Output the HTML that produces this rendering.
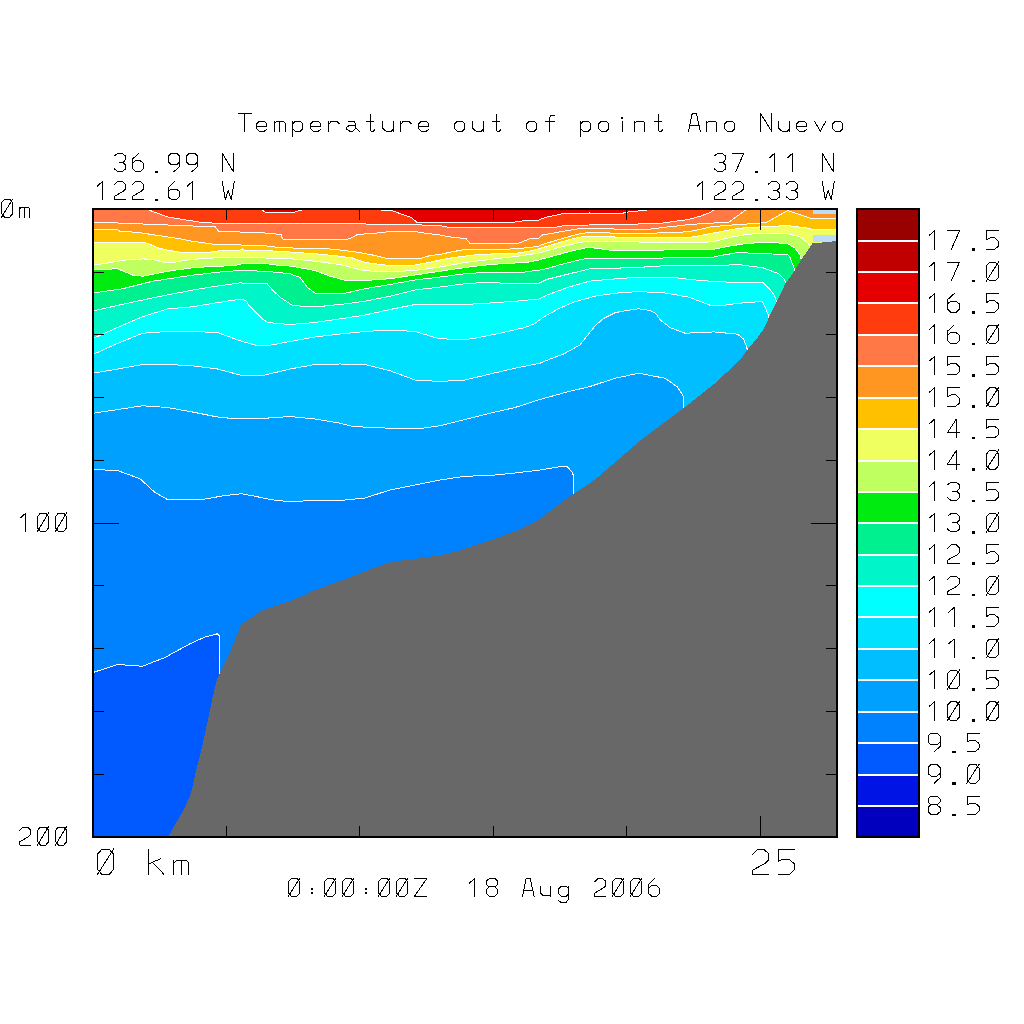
<!DOCTYPE html><html><head><meta charset="utf-8"><title>Temperature out of point Ano Nuevo</title><style>html,body{margin:0;padding:0;background:#fff;font-family:"Liberation Sans",sans-serif}svg{display:block}</style></head><body><svg width="1024" height="1024" viewBox="0 0 1024 1024" shape-rendering="crispEdges"><rect width="1024" height="1024" fill="#fff"/><defs><clipPath id="pc"><rect x="93.0" y="209.0" width="744.0" height="628.0"/></clipPath></defs><g clip-path="url(#pc)"><rect x="93.0" y="209.0" width="744.0" height="628.0" fill="#E40000"/><polygon points="93.00,209.00 261.00,209.00 265.00,212.00 295.00,212.00 305.00,209.00 366.00,209.00 380.00,210.00 390.60,210.25 398.75,213.10 411.25,217.50 416.90,222.25 447.50,222.75 490.00,222.75 515.00,222.00 530.00,220.00 538.75,220.00 545.00,217.50 563.75,213.50 588.75,213.50 589.40,212.75 590.00,213.50 621.25,213.50 628.75,211.90 646.25,210.25 650.00,209.00 837.00,209.00 837.00,837.00 93.00,837.00" fill="#FF3C0E"/><polygon points="93.00,209.00 146.00,209.00 167.50,216.90 192.50,221.00 202.50,222.50 217.50,223.30 260.00,223.50 300.00,223.50 365.60,223.50 366.50,224.60 416.25,224.80 440.00,225.60 450.00,227.50 508.00,227.75 530.00,227.75 555.00,227.50 563.75,225.60 588.75,225.00 637.50,224.40 638.75,223.30 662.50,223.10 675.00,221.25 687.50,219.75 700.00,216.25 710.00,212.75 715.00,209.00 837.00,209.00 837.00,837.00 93.00,837.00" fill="#FF7845"/><polygon points="93.00,222.50 117.50,222.50 118.75,223.75 142.50,223.75 143.75,224.75 167.50,224.75 168.75,225.60 192.50,225.60 193.75,226.50 215.00,226.50 218.50,231.30 240.00,232.00 265.00,233.00 281.00,234.50 282.50,239.00 300.00,239.40 340.00,240.00 350.00,238.75 357.50,234.50 380.00,232.75 390.00,231.50 415.00,231.50 425.00,233.10 440.00,235.00 450.00,236.90 466.25,238.75 470.00,243.50 517.50,243.75 530.00,238.75 538.75,238.10 542.50,235.00 563.75,231.25 578.75,228.75 588.75,228.10 613.75,228.75 615.00,229.40 650.00,229.20 662.50,227.50 675.00,226.25 687.50,224.75 700.00,223.75 712.50,223.10 728.75,222.25 746.90,209.00 837.00,209.00 837.00,837.00 93.00,837.00" fill="#FF9622"/><polygon points="93.00,229.60 117.50,229.60 120.00,231.25 131.25,231.90 142.50,233.10 155.00,235.00 167.50,236.90 180.00,238.75 192.50,241.25 205.00,243.00 218.00,244.75 241.00,244.75 241.75,245.60 266.75,246.00 268.00,246.90 291.75,247.25 293.00,248.10 316.25,248.30 330.00,249.00 342.50,250.25 357.50,252.25 372.50,255.00 387.50,258.50 420.00,258.50 430.00,255.60 440.00,254.40 450.00,252.25 465.00,249.40 508.00,249.10 518.00,248.50 530.00,247.50 538.75,246.25 542.50,244.40 563.75,238.10 578.75,234.00 588.75,232.50 613.75,233.10 615.00,233.75 650.00,233.60 662.50,232.50 687.50,231.90 700.00,229.40 712.50,226.50 720.00,226.00 732.50,225.00 760.00,223.10 766.25,222.50 787.50,210.60 810.00,218.10 837.00,218.10 837.00,837.00 93.00,837.00" fill="#FFC000"/><polygon points="93.00,242.25 143.75,242.25 150.00,244.40 158.75,248.10 170.00,250.60 182.50,252.50 207.50,252.50 218.00,251.00 240.00,250.00 242.50,249.00 243.75,250.00 265.00,250.50 290.00,252.00 315.00,253.75 340.00,256.25 352.50,258.00 365.00,262.50 385.00,265.00 415.00,265.00 430.00,262.25 440.00,260.00 450.00,258.10 473.75,255.00 492.50,253.90 517.50,253.10 530.00,251.00 538.75,248.75 563.75,241.25 578.75,237.25 588.75,236.25 613.75,236.50 615.00,237.25 687.50,237.25 693.75,236.90 700.00,235.60 712.50,233.10 720.00,231.90 732.50,229.40 745.00,227.75 761.25,226.90 787.50,225.60 807.50,228.10 813.10,229.40 837.00,229.60 837.00,837.00 93.00,837.00" fill="#F0FF60"/><polygon points="93.00,264.75 103.75,263.75 116.25,261.50 130.00,259.40 142.50,259.00 143.75,258.50 145.00,259.40 155.00,260.00 165.00,262.50 173.75,262.50 182.50,260.60 192.50,259.40 205.00,258.50 220.00,257.60 240.00,257.50 265.00,258.00 290.00,258.75 315.00,261.25 340.00,264.50 362.50,270.50 385.00,272.00 415.00,270.50 440.00,267.00 465.00,262.50 490.00,259.50 515.00,256.50 530.00,254.40 538.75,253.10 563.75,246.25 578.75,242.50 588.75,241.25 638.75,241.50 640.00,242.50 687.50,242.50 712.50,241.90 720.00,240.00 732.50,236.90 745.00,234.75 761.25,233.10 776.25,233.10 787.50,233.50 800.00,236.90 807.50,242.50 810.00,246.25 815.00,256.00 837.00,256.00 837.00,837.00 93.00,837.00" fill="#C0FF60"/><polygon points="93.00,270.00 117.50,268.75 132.50,275.00 142.50,276.25 155.00,273.75 172.50,270.50 195.00,267.50 218.00,266.25 234.25,265.60 241.75,263.75 266.75,263.75 275.50,265.00 291.75,266.25 315.00,270.50 330.00,276.25 346.00,280.50 365.00,280.50 390.00,278.75 415.00,275.00 440.00,271.25 465.00,267.50 490.00,264.50 515.00,263.00 530.00,261.90 538.75,260.00 563.75,253.10 578.75,249.40 588.75,247.25 605.00,249.40 613.75,250.60 662.50,250.60 665.00,249.40 712.50,249.40 720.00,248.10 732.50,245.60 745.00,243.75 757.50,242.75 776.25,242.75 787.50,243.75 795.00,248.10 800.00,255.00 801.25,259.40 803.00,266.00 837.00,266.00 837.00,837.00 93.00,837.00" fill="#00EC10"/><polygon points="93.00,293.00 122.50,288.75 152.50,281.25 190.00,275.50 220.00,272.00 240.00,270.50 265.00,271.25 290.00,273.75 300.00,277.50 307.50,287.50 315.00,293.00 346.00,293.00 365.00,288.75 390.00,284.50 415.00,280.00 440.00,277.00 465.00,273.75 490.00,272.00 525.00,272.00 540.00,270.00 548.75,268.10 563.75,263.75 578.75,260.00 588.75,258.10 662.50,258.50 663.75,257.25 712.50,257.25 720.00,255.60 732.50,253.50 737.50,252.50 762.50,253.75 787.50,254.40 790.00,257.50 792.50,264.00 795.00,270.50 797.00,280.00 837.00,280.00 837.00,837.00 93.00,837.00" fill="#00F090"/><polygon points="93.00,311.00 115.40,305.90 142.70,300.00 168.10,294.80 191.60,290.30 215.00,286.40 236.50,283.40 241.40,282.50 242.30,283.40 266.80,283.40 273.60,291.25 281.40,298.10 292.50,305.50 315.00,307.00 346.00,303.75 365.00,301.25 390.00,296.25 415.00,290.00 440.00,287.00 465.00,283.75 490.00,282.00 503.70,283.40 538.80,283.40 546.60,279.50 568.10,274.10 589.60,268.80 615.00,268.20 638.40,267.40 661.90,265.90 663.80,265.50 712.50,266.00 737.70,264.50 763.00,267.80 778.70,273.70 784.50,279.50 786.00,284.00 786.00,292.00 837.00,292.00 837.00,837.00 93.00,837.00" fill="#00F5C8"/><polygon points="93.00,338.50 115.40,328.40 142.70,316.60 168.10,308.80 191.60,306.90 215.00,303.00 241.40,299.00 246.25,301.00 249.20,305.90 261.90,318.60 267.70,322.50 290.00,324.50 315.00,322.50 346.00,318.00 365.00,315.00 390.00,309.50 415.00,304.50 440.00,304.50 465.00,304.50 490.00,303.00 515.00,301.25 538.80,299.00 546.60,295.20 568.10,287.30 589.60,281.10 613.00,279.10 626.70,278.00 640.00,277.50 665.00,277.20 677.50,278.00 690.00,279.50 718.00,281.90 763.00,282.50 769.90,289.30 774.80,296.10 776.70,302.00 777.00,310.00 837.00,310.00 837.00,837.00 93.00,837.00" fill="#00FFFF"/><polygon points="93.00,354.50 115.00,344.50 142.50,333.25 167.50,331.50 192.50,331.50 217.50,332.50 240.00,340.75 255.00,345.00 267.50,345.75 290.00,341.50 315.00,337.00 340.00,334.00 365.00,331.50 390.00,330.00 415.00,331.50 437.50,338.25 460.00,340.00 475.00,338.25 500.00,333.25 525.20,327.40 534.90,323.50 542.70,317.60 558.40,308.80 574.00,302.00 595.50,296.10 615.00,293.20 638.40,291.60 663.80,292.80 688.80,297.10 710.30,305.30 724.00,305.30 737.70,303.40 762.00,301.40 765.00,306.90 767.90,313.70 768.90,317.60 769.00,326.00 837.00,326.00 837.00,837.00 93.00,837.00" fill="#00E1FF"/><polygon points="93.00,373.25 115.00,369.50 142.50,364.50 167.50,364.50 192.50,365.75 217.50,369.00 240.00,375.00 265.00,375.00 290.00,369.00 315.00,364.50 340.00,364.00 365.00,364.50 390.00,370.75 415.00,380.00 440.00,381.50 465.00,380.00 490.00,374.00 515.00,368.25 540.00,363.25 548.60,359.60 564.20,353.75 579.80,345.00 587.70,335.20 595.50,325.40 603.30,318.60 615.00,312.70 626.70,310.40 638.40,308.80 650.20,310.40 656.00,313.70 659.90,319.60 669.70,327.40 684.90,333.20 698.60,332.70 714.20,331.90 737.70,334.20 743.50,339.10 746.00,345.00 747.40,349.80 748.00,360.00 837.00,360.00 837.00,837.00 93.00,837.00" fill="#00BEFF"/><polygon points="93.00,413.25 115.00,410.00 142.50,405.75 167.50,407.50 192.50,412.00 217.50,417.00 230.00,418.25 265.00,418.25 290.00,416.50 315.00,419.00 340.00,423.25 352.50,426.50 390.00,428.25 422.50,428.25 440.00,425.75 465.00,419.50 490.00,413.25 515.00,407.50 540.00,399.50 565.00,392.50 590.00,386.50 615.00,378.25 638.75,373.25 665.00,378.25 677.50,387.00 683.00,395.75 683.75,407.50 683.75,420.00 837.00,420.00 837.00,837.00 93.00,837.00" fill="#00A0FF"/><polygon points="93.00,469.50 117.50,470.50 140.00,478.75 155.00,492.50 167.50,499.50 202.50,499.50 225.00,495.50 241.25,493.75 255.00,496.25 270.00,499.50 285.00,501.25 340.00,500.50 365.00,498.00 390.00,490.00 415.00,485.00 440.00,480.00 465.00,476.25 490.00,475.50 515.00,473.00 540.00,470.00 562.50,466.25 567.50,467.00 572.50,472.50 573.75,477.50 573.75,500.00 837.00,500.00 837.00,837.00 93.00,837.00" fill="#0082FF"/><polygon points="93.00,672.50 117.50,664.50 142.50,666.25 165.00,657.50 190.00,643.75 205.00,637.00 217.50,633.75 219.50,636.25 219.50,680.00 837.00,680.00 837.00,837.00 93.00,837.00" fill="#005AFF"/><polyline points="93.00,209.00 261.00,209.00 265.00,212.00 295.00,212.00 305.00,209.00 366.00,209.00 380.00,210.00 390.60,210.25 398.75,213.10 411.25,217.50 416.90,222.25 447.50,222.75 490.00,222.75 515.00,222.00 530.00,220.00 538.75,220.00 545.00,217.50 563.75,213.50 588.75,213.50 589.40,212.75 590.00,213.50 621.25,213.50 628.75,211.90 646.25,210.25 650.00,209.00 837.00,209.00" fill="none" stroke="#fff" stroke-width="1"/><polyline points="93.00,209.00 146.00,209.00 167.50,216.90 192.50,221.00 202.50,222.50 217.50,223.30 260.00,223.50 300.00,223.50 365.60,223.50 366.50,224.60 416.25,224.80 440.00,225.60 450.00,227.50 508.00,227.75 530.00,227.75 555.00,227.50 563.75,225.60 588.75,225.00 637.50,224.40 638.75,223.30 662.50,223.10 675.00,221.25 687.50,219.75 700.00,216.25 710.00,212.75 715.00,209.00 837.00,209.00" fill="none" stroke="#fff" stroke-width="1"/><polyline points="93.00,222.50 117.50,222.50 118.75,223.75 142.50,223.75 143.75,224.75 167.50,224.75 168.75,225.60 192.50,225.60 193.75,226.50 215.00,226.50 218.50,231.30 240.00,232.00 265.00,233.00 281.00,234.50 282.50,239.00 300.00,239.40 340.00,240.00 350.00,238.75 357.50,234.50 380.00,232.75 390.00,231.50 415.00,231.50 425.00,233.10 440.00,235.00 450.00,236.90 466.25,238.75 470.00,243.50 517.50,243.75 530.00,238.75 538.75,238.10 542.50,235.00 563.75,231.25 578.75,228.75 588.75,228.10 613.75,228.75 615.00,229.40 650.00,229.20 662.50,227.50 675.00,226.25 687.50,224.75 700.00,223.75 712.50,223.10 728.75,222.25 746.90,209.00 837.00,209.00" fill="none" stroke="#fff" stroke-width="1"/><polyline points="93.00,229.60 117.50,229.60 120.00,231.25 131.25,231.90 142.50,233.10 155.00,235.00 167.50,236.90 180.00,238.75 192.50,241.25 205.00,243.00 218.00,244.75 241.00,244.75 241.75,245.60 266.75,246.00 268.00,246.90 291.75,247.25 293.00,248.10 316.25,248.30 330.00,249.00 342.50,250.25 357.50,252.25 372.50,255.00 387.50,258.50 420.00,258.50 430.00,255.60 440.00,254.40 450.00,252.25 465.00,249.40 508.00,249.10 518.00,248.50 530.00,247.50 538.75,246.25 542.50,244.40 563.75,238.10 578.75,234.00 588.75,232.50 613.75,233.10 615.00,233.75 650.00,233.60 662.50,232.50 687.50,231.90 700.00,229.40 712.50,226.50 720.00,226.00 732.50,225.00 760.00,223.10 766.25,222.50 787.50,210.60 810.00,218.10 837.00,218.10" fill="none" stroke="#fff" stroke-width="1"/><polyline points="93.00,242.25 143.75,242.25 150.00,244.40 158.75,248.10 170.00,250.60 182.50,252.50 207.50,252.50 218.00,251.00 240.00,250.00 242.50,249.00 243.75,250.00 265.00,250.50 290.00,252.00 315.00,253.75 340.00,256.25 352.50,258.00 365.00,262.50 385.00,265.00 415.00,265.00 430.00,262.25 440.00,260.00 450.00,258.10 473.75,255.00 492.50,253.90 517.50,253.10 530.00,251.00 538.75,248.75 563.75,241.25 578.75,237.25 588.75,236.25 613.75,236.50 615.00,237.25 687.50,237.25 693.75,236.90 700.00,235.60 712.50,233.10 720.00,231.90 732.50,229.40 745.00,227.75 761.25,226.90 787.50,225.60 807.50,228.10 813.10,229.40 837.00,229.60" fill="none" stroke="#fff" stroke-width="1"/><polyline points="93.00,264.75 103.75,263.75 116.25,261.50 130.00,259.40 142.50,259.00 143.75,258.50 145.00,259.40 155.00,260.00 165.00,262.50 173.75,262.50 182.50,260.60 192.50,259.40 205.00,258.50 220.00,257.60 240.00,257.50 265.00,258.00 290.00,258.75 315.00,261.25 340.00,264.50 362.50,270.50 385.00,272.00 415.00,270.50 440.00,267.00 465.00,262.50 490.00,259.50 515.00,256.50 530.00,254.40 538.75,253.10 563.75,246.25 578.75,242.50 588.75,241.25 638.75,241.50 640.00,242.50 687.50,242.50 712.50,241.90 720.00,240.00 732.50,236.90 745.00,234.75 761.25,233.10 776.25,233.10 787.50,233.50 800.00,236.90 807.50,242.50 810.00,246.25 815.00,256.00 837.00,256.00" fill="none" stroke="#fff" stroke-width="1"/><polyline points="93.00,270.00 117.50,268.75 132.50,275.00 142.50,276.25 155.00,273.75 172.50,270.50 195.00,267.50 218.00,266.25 234.25,265.60 241.75,263.75 266.75,263.75 275.50,265.00 291.75,266.25 315.00,270.50 330.00,276.25 346.00,280.50 365.00,280.50 390.00,278.75 415.00,275.00 440.00,271.25 465.00,267.50 490.00,264.50 515.00,263.00 530.00,261.90 538.75,260.00 563.75,253.10 578.75,249.40 588.75,247.25 605.00,249.40 613.75,250.60 662.50,250.60 665.00,249.40 712.50,249.40 720.00,248.10 732.50,245.60 745.00,243.75 757.50,242.75 776.25,242.75 787.50,243.75 795.00,248.10 800.00,255.00 801.25,259.40 803.00,266.00 837.00,266.00" fill="none" stroke="#fff" stroke-width="1"/><polyline points="93.00,293.00 122.50,288.75 152.50,281.25 190.00,275.50 220.00,272.00 240.00,270.50 265.00,271.25 290.00,273.75 300.00,277.50 307.50,287.50 315.00,293.00 346.00,293.00 365.00,288.75 390.00,284.50 415.00,280.00 440.00,277.00 465.00,273.75 490.00,272.00 525.00,272.00 540.00,270.00 548.75,268.10 563.75,263.75 578.75,260.00 588.75,258.10 662.50,258.50 663.75,257.25 712.50,257.25 720.00,255.60 732.50,253.50 737.50,252.50 762.50,253.75 787.50,254.40 790.00,257.50 792.50,264.00 795.00,270.50 797.00,280.00 837.00,280.00" fill="none" stroke="#fff" stroke-width="1"/><polyline points="93.00,311.00 115.40,305.90 142.70,300.00 168.10,294.80 191.60,290.30 215.00,286.40 236.50,283.40 241.40,282.50 242.30,283.40 266.80,283.40 273.60,291.25 281.40,298.10 292.50,305.50 315.00,307.00 346.00,303.75 365.00,301.25 390.00,296.25 415.00,290.00 440.00,287.00 465.00,283.75 490.00,282.00 503.70,283.40 538.80,283.40 546.60,279.50 568.10,274.10 589.60,268.80 615.00,268.20 638.40,267.40 661.90,265.90 663.80,265.50 712.50,266.00 737.70,264.50 763.00,267.80 778.70,273.70 784.50,279.50 786.00,284.00 786.00,292.00 837.00,292.00" fill="none" stroke="#fff" stroke-width="1"/><polyline points="93.00,338.50 115.40,328.40 142.70,316.60 168.10,308.80 191.60,306.90 215.00,303.00 241.40,299.00 246.25,301.00 249.20,305.90 261.90,318.60 267.70,322.50 290.00,324.50 315.00,322.50 346.00,318.00 365.00,315.00 390.00,309.50 415.00,304.50 440.00,304.50 465.00,304.50 490.00,303.00 515.00,301.25 538.80,299.00 546.60,295.20 568.10,287.30 589.60,281.10 613.00,279.10 626.70,278.00 640.00,277.50 665.00,277.20 677.50,278.00 690.00,279.50 718.00,281.90 763.00,282.50 769.90,289.30 774.80,296.10 776.70,302.00 777.00,310.00 837.00,310.00" fill="none" stroke="#fff" stroke-width="1"/><polyline points="93.00,354.50 115.00,344.50 142.50,333.25 167.50,331.50 192.50,331.50 217.50,332.50 240.00,340.75 255.00,345.00 267.50,345.75 290.00,341.50 315.00,337.00 340.00,334.00 365.00,331.50 390.00,330.00 415.00,331.50 437.50,338.25 460.00,340.00 475.00,338.25 500.00,333.25 525.20,327.40 534.90,323.50 542.70,317.60 558.40,308.80 574.00,302.00 595.50,296.10 615.00,293.20 638.40,291.60 663.80,292.80 688.80,297.10 710.30,305.30 724.00,305.30 737.70,303.40 762.00,301.40 765.00,306.90 767.90,313.70 768.90,317.60 769.00,326.00 837.00,326.00" fill="none" stroke="#fff" stroke-width="1"/><polyline points="93.00,373.25 115.00,369.50 142.50,364.50 167.50,364.50 192.50,365.75 217.50,369.00 240.00,375.00 265.00,375.00 290.00,369.00 315.00,364.50 340.00,364.00 365.00,364.50 390.00,370.75 415.00,380.00 440.00,381.50 465.00,380.00 490.00,374.00 515.00,368.25 540.00,363.25 548.60,359.60 564.20,353.75 579.80,345.00 587.70,335.20 595.50,325.40 603.30,318.60 615.00,312.70 626.70,310.40 638.40,308.80 650.20,310.40 656.00,313.70 659.90,319.60 669.70,327.40 684.90,333.20 698.60,332.70 714.20,331.90 737.70,334.20 743.50,339.10 746.00,345.00 747.40,349.80 748.00,360.00 837.00,360.00" fill="none" stroke="#fff" stroke-width="1"/><polyline points="93.00,413.25 115.00,410.00 142.50,405.75 167.50,407.50 192.50,412.00 217.50,417.00 230.00,418.25 265.00,418.25 290.00,416.50 315.00,419.00 340.00,423.25 352.50,426.50 390.00,428.25 422.50,428.25 440.00,425.75 465.00,419.50 490.00,413.25 515.00,407.50 540.00,399.50 565.00,392.50 590.00,386.50 615.00,378.25 638.75,373.25 665.00,378.25 677.50,387.00 683.00,395.75 683.75,407.50 683.75,420.00 837.00,420.00" fill="none" stroke="#fff" stroke-width="1"/><polyline points="93.00,469.50 117.50,470.50 140.00,478.75 155.00,492.50 167.50,499.50 202.50,499.50 225.00,495.50 241.25,493.75 255.00,496.25 270.00,499.50 285.00,501.25 340.00,500.50 365.00,498.00 390.00,490.00 415.00,485.00 440.00,480.00 465.00,476.25 490.00,475.50 515.00,473.00 540.00,470.00 562.50,466.25 567.50,467.00 572.50,472.50 573.75,477.50 573.75,500.00 837.00,500.00" fill="none" stroke="#fff" stroke-width="1"/><polyline points="93.00,672.50 117.50,664.50 142.50,666.25 165.00,657.50 190.00,643.75 205.00,637.00 217.50,633.75 219.50,636.25 219.50,680.00 837.00,680.00" fill="none" stroke="#fff" stroke-width="1"/><rect x="813" y="209" width="24" height="4.75" fill="#BEDCF8"/><rect x="813" y="235" width="24" height="7" fill="#BEDCF8"/><polygon points="168.00,837.00 185.00,807.50 191.25,792.50 196.25,770.00 202.50,745.00 210.00,710.00 216.25,681.25 220.00,672.50 230.00,652.50 241.25,624.50 262.50,610.50 290.00,601.25 315.00,590.00 346.00,578.75 365.00,571.25 390.00,562.00 415.00,558.75 440.00,555.50 465.00,548.75 490.00,540.50 515.00,531.25 540.00,518.75 565.00,500.00 596.00,478.75 623.75,455.00 640.00,440.75 665.00,422.00 690.00,403.25 715.00,383.25 740.00,360.00 747.40,349.80 757.20,338.10 764.00,328.40 768.90,317.60 776.70,302.00 785.50,283.40 793.30,272.70 801.10,260.00 812.50,243.50 837.00,241.00 837.00,837.00" fill="#686868"/></g><rect x="93.0" y="209.0" width="744.0" height="628.0" fill="none" stroke="#000" stroke-width="2"/><path d="M93.0,272.5 h11 M837.0,272.5 h-11 M93.0,334.5 h11 M837.0,334.5 h-11 M93.0,397.5 h11 M837.0,397.5 h-11 M93.0,460.5 h11 M837.0,460.5 h-11 M93.0,523.5 h26 M837.0,523.5 h-26 M93.0,585.5 h11 M837.0,585.5 h-11 M93.0,648.5 h11 M837.0,648.5 h-11 M93.0,711.5 h11 M837.0,711.5 h-11 M93.0,774.5 h11 M837.0,774.5 h-11 M226.5,209.0 v11 M226.5,837.0 v-11 M359.5,209.0 v11 M359.5,837.0 v-11 M493.5,209.0 v11 M493.5,837.0 v-11 M626.5,209.0 v11 M626.5,837.0 v-11 M760.5,209.0 v21 M760.5,837.0 v-21" stroke="#000" stroke-width="1" fill="none"/><rect x="857.0" y="805.60" width="62.0" height="31.40" fill="#0000BE"/><rect x="857.0" y="774.20" width="62.0" height="31.40" fill="#0014E6"/><rect x="857.0" y="742.80" width="62.0" height="31.40" fill="#005AFF"/><rect x="857.0" y="711.40" width="62.0" height="31.40" fill="#0082FF"/><rect x="857.0" y="680.00" width="62.0" height="31.40" fill="#00A0FF"/><rect x="857.0" y="648.60" width="62.0" height="31.40" fill="#00BEFF"/><rect x="857.0" y="617.20" width="62.0" height="31.40" fill="#00E1FF"/><rect x="857.0" y="585.80" width="62.0" height="31.40" fill="#00FFFF"/><rect x="857.0" y="554.40" width="62.0" height="31.40" fill="#00F5C8"/><rect x="857.0" y="523.00" width="62.0" height="31.40" fill="#00F090"/><rect x="857.0" y="491.60" width="62.0" height="31.40" fill="#00EC10"/><rect x="857.0" y="460.20" width="62.0" height="31.40" fill="#C0FF60"/><rect x="857.0" y="428.80" width="62.0" height="31.40" fill="#F0FF60"/><rect x="857.0" y="397.40" width="62.0" height="31.40" fill="#FFC000"/><rect x="857.0" y="366.00" width="62.0" height="31.40" fill="#FF9622"/><rect x="857.0" y="334.60" width="62.0" height="31.40" fill="#FF7845"/><rect x="857.0" y="303.20" width="62.0" height="31.40" fill="#FF3C0E"/><rect x="857.0" y="271.80" width="62.0" height="31.40" fill="#E40000"/><rect x="857.0" y="240.40" width="62.0" height="31.40" fill="#C00000"/><rect x="857.0" y="209.00" width="62.0" height="31.40" fill="#990000"/><rect x="857.0" y="240" width="62.0" height="2" fill="#fff"/><rect x="857.0" y="271" width="62.0" height="2" fill="#fff"/><rect x="857.0" y="302" width="62.0" height="2" fill="#fff"/><rect x="857.0" y="334" width="62.0" height="2" fill="#fff"/><rect x="857.0" y="365" width="62.0" height="2" fill="#fff"/><rect x="857.0" y="397" width="62.0" height="2" fill="#fff"/><rect x="857.0" y="428" width="62.0" height="2" fill="#fff"/><rect x="857.0" y="460" width="62.0" height="2" fill="#fff"/><rect x="857.0" y="491" width="62.0" height="2" fill="#fff"/><rect x="857.0" y="522" width="62.0" height="2" fill="#fff"/><rect x="857.0" y="554" width="62.0" height="2" fill="#fff"/><rect x="857.0" y="585" width="62.0" height="2" fill="#fff"/><rect x="857.0" y="616" width="62.0" height="2" fill="#fff"/><rect x="857.0" y="648" width="62.0" height="2" fill="#fff"/><rect x="857.0" y="679" width="62.0" height="2" fill="#fff"/><rect x="857.0" y="711" width="62.0" height="2" fill="#fff"/><rect x="857.0" y="742" width="62.0" height="2" fill="#fff"/><rect x="857.0" y="774" width="62.0" height="2" fill="#fff"/><rect x="857.0" y="805" width="62.0" height="2" fill="#fff"/><path d="M857.0,209 V837 H919.0 V209 Z" fill="none" stroke="#000" stroke-width="2"/><path d="M931.00,796.00 L937.00,796.00 L940.00,798.78 L940.00,802.29 L937.00,804.88 L931.00,804.88 L928.00,802.29 L928.00,798.78 Z M931.00,804.88 L928.00,807.47 L928.00,811.73 L931.00,814.50 L937.00,814.50 L940.00,811.73 L940.00,807.47 L937.00,804.88 M979.00,796.00 L967.00,796.00 L967.00,804.88 L970.60,803.03 L975.16,803.03 L979.00,806.36 L979.00,811.17 L975.40,814.50 L967.00,814.50" fill="none" stroke="#000" stroke-width="1.0" stroke-linecap="square" stroke-linejoin="round"/><g fill="#000"><rect x="952.30" y="813.58" width="3.36" height="2.59"/></g><path d="M940.00,773.48 L937.00,776.07 L931.00,776.07 L928.00,773.48 L928.00,767.38 L931.00,764.60 L937.00,764.60 L940.00,767.38 L940.00,777.92 L934.24,783.10 M970.00,764.60 L976.00,764.60 L979.00,767.93 L979.00,779.77 L976.00,783.10 L970.00,783.10 L967.00,779.77 L967.00,767.93 Z M966.64,783.65 L979.24,764.05" fill="none" stroke="#000" stroke-width="1.0" stroke-linecap="square" stroke-linejoin="round"/><g fill="#000"><rect x="952.30" y="782.18" width="3.36" height="2.59"/></g><path d="M940.00,742.08 L937.00,744.67 L931.00,744.67 L928.00,742.08 L928.00,735.97 L931.00,733.20 L937.00,733.20 L940.00,735.97 L940.00,746.52 L934.24,751.70 M979.00,733.20 L967.00,733.20 L967.00,742.08 L970.60,740.23 L975.16,740.23 L979.00,743.56 L979.00,748.37 L975.40,751.70 L967.00,751.70" fill="none" stroke="#000" stroke-width="1.0" stroke-linecap="square" stroke-linejoin="round"/><g fill="#000"><rect x="952.30" y="750.77" width="3.36" height="2.59"/></g><path d="M929.20,706.43 L934.60,701.80 L934.60,720.30 M950.50,701.80 L956.50,701.80 L959.50,705.13 L959.50,716.97 L956.50,720.30 L950.50,720.30 L947.50,716.97 L947.50,705.13 Z M947.14,720.86 L959.74,701.25 M989.50,701.80 L995.50,701.80 L998.50,705.13 L998.50,716.97 L995.50,720.30 L989.50,720.30 L986.50,716.97 L986.50,705.13 Z M986.14,720.86 L998.74,701.25" fill="none" stroke="#000" stroke-width="1.0" stroke-linecap="square" stroke-linejoin="round"/><g fill="#000"><rect x="971.80" y="719.38" width="3.36" height="2.59"/></g><path d="M929.20,675.02 L934.60,670.40 L934.60,688.90 M950.50,670.40 L956.50,670.40 L959.50,673.73 L959.50,685.57 L956.50,688.90 L950.50,688.90 L947.50,685.57 L947.50,673.73 Z M947.14,689.45 L959.74,669.85 M998.50,670.40 L986.50,670.40 L986.50,679.28 L990.10,677.43 L994.66,677.43 L998.50,680.76 L998.50,685.57 L994.90,688.90 L986.50,688.90" fill="none" stroke="#000" stroke-width="1.0" stroke-linecap="square" stroke-linejoin="round"/><g fill="#000"><rect x="971.80" y="687.98" width="3.36" height="2.59"/></g><path d="M929.20,643.62 L934.60,639.00 L934.60,657.50 M948.70,643.62 L954.10,639.00 L954.10,657.50 M989.50,639.00 L995.50,639.00 L998.50,642.33 L998.50,654.17 L995.50,657.50 L989.50,657.50 L986.50,654.17 L986.50,642.33 Z M986.14,658.05 L998.74,638.45" fill="none" stroke="#000" stroke-width="1.0" stroke-linecap="square" stroke-linejoin="round"/><g fill="#000"><rect x="971.80" y="656.58" width="3.36" height="2.59"/></g><path d="M929.20,612.23 L934.60,607.60 L934.60,626.10 M948.70,612.23 L954.10,607.60 L954.10,626.10 M998.50,607.60 L986.50,607.60 L986.50,616.48 L990.10,614.63 L994.66,614.63 L998.50,617.96 L998.50,622.77 L994.90,626.10 L986.50,626.10" fill="none" stroke="#000" stroke-width="1.0" stroke-linecap="square" stroke-linejoin="round"/><g fill="#000"><rect x="971.80" y="625.18" width="3.36" height="2.59"/></g><path d="M929.20,580.82 L934.60,576.20 L934.60,594.70 M947.74,579.53 L951.10,576.20 L956.26,576.20 L959.50,579.16 L959.50,583.60 L957.34,586.00 L947.50,591.55 L947.50,594.70 L959.50,594.70 M989.50,576.20 L995.50,576.20 L998.50,579.53 L998.50,591.37 L995.50,594.70 L989.50,594.70 L986.50,591.37 L986.50,579.53 Z M986.14,595.25 L998.74,575.64" fill="none" stroke="#000" stroke-width="1.0" stroke-linecap="square" stroke-linejoin="round"/><g fill="#000"><rect x="971.80" y="593.77" width="3.36" height="2.59"/></g><path d="M929.20,549.43 L934.60,544.80 L934.60,563.30 M947.74,548.13 L951.10,544.80 L956.26,544.80 L959.50,547.76 L959.50,552.20 L957.34,554.61 L947.50,560.16 L947.50,563.30 L959.50,563.30 M998.50,544.80 L986.50,544.80 L986.50,553.68 L990.10,551.83 L994.66,551.83 L998.50,555.16 L998.50,559.97 L994.90,563.30 L986.50,563.30" fill="none" stroke="#000" stroke-width="1.0" stroke-linecap="square" stroke-linejoin="round"/><g fill="#000"><rect x="971.80" y="562.38" width="3.36" height="2.59"/></g><path d="M929.20,518.02 L934.60,513.40 L934.60,531.90 M947.86,515.99 L951.10,513.40 L956.14,513.40 L959.50,516.36 L959.50,519.88 L956.74,522.65 L952.90,522.65 M956.74,522.65 L959.50,525.42 L959.50,529.12 L956.14,531.90 L951.10,531.90 L947.50,529.12 M989.50,513.40 L995.50,513.40 L998.50,516.73 L998.50,528.57 L995.50,531.90 L989.50,531.90 L986.50,528.57 L986.50,516.73 Z M986.14,532.45 L998.74,512.85" fill="none" stroke="#000" stroke-width="1.0" stroke-linecap="square" stroke-linejoin="round"/><g fill="#000"><rect x="971.80" y="530.98" width="3.36" height="2.59"/></g><path d="M929.20,486.62 L934.60,482.00 L934.60,500.50 M947.86,484.59 L951.10,482.00 L956.14,482.00 L959.50,484.96 L959.50,488.48 L956.74,491.25 L952.90,491.25 M956.74,491.25 L959.50,494.02 L959.50,497.73 L956.14,500.50 L951.10,500.50 L947.50,497.73 M998.50,482.00 L986.50,482.00 L986.50,490.88 L990.10,489.03 L994.66,489.03 L998.50,492.36 L998.50,497.17 L994.90,500.50 L986.50,500.50" fill="none" stroke="#000" stroke-width="1.0" stroke-linecap="square" stroke-linejoin="round"/><g fill="#000"><rect x="971.80" y="499.57" width="3.36" height="2.59"/></g><path d="M929.20,455.23 L934.60,450.60 L934.60,469.10 M956.26,469.10 L956.26,450.60 L947.50,464.11 L959.50,464.11 M989.50,450.60 L995.50,450.60 L998.50,453.93 L998.50,465.77 L995.50,469.10 L989.50,469.10 L986.50,465.77 L986.50,453.93 Z M986.14,469.66 L998.74,450.05" fill="none" stroke="#000" stroke-width="1.0" stroke-linecap="square" stroke-linejoin="round"/><g fill="#000"><rect x="971.80" y="468.18" width="3.36" height="2.59"/></g><path d="M929.20,423.83 L934.60,419.20 L934.60,437.70 M956.26,437.70 L956.26,419.20 L947.50,432.71 L959.50,432.71 M998.50,419.20 L986.50,419.20 L986.50,428.08 L990.10,426.23 L994.66,426.23 L998.50,429.56 L998.50,434.37 L994.90,437.70 L986.50,437.70" fill="none" stroke="#000" stroke-width="1.0" stroke-linecap="square" stroke-linejoin="round"/><g fill="#000"><rect x="971.80" y="436.78" width="3.36" height="2.59"/></g><path d="M929.20,392.43 L934.60,387.80 L934.60,406.30 M959.50,387.80 L947.50,387.80 L947.50,396.68 L951.10,394.83 L955.66,394.83 L959.50,398.16 L959.50,402.97 L955.90,406.30 L947.50,406.30 M989.50,387.80 L995.50,387.80 L998.50,391.13 L998.50,402.97 L995.50,406.30 L989.50,406.30 L986.50,402.97 L986.50,391.13 Z M986.14,406.86 L998.74,387.25" fill="none" stroke="#000" stroke-width="1.0" stroke-linecap="square" stroke-linejoin="round"/><g fill="#000"><rect x="971.80" y="405.38" width="3.36" height="2.59"/></g><path d="M929.20,361.03 L934.60,356.40 L934.60,374.90 M959.50,356.40 L947.50,356.40 L947.50,365.28 L951.10,363.43 L955.66,363.43 L959.50,366.76 L959.50,371.57 L955.90,374.90 L947.50,374.90 M998.50,356.40 L986.50,356.40 L986.50,365.28 L990.10,363.43 L994.66,363.43 L998.50,366.76 L998.50,371.57 L994.90,374.90 L986.50,374.90" fill="none" stroke="#000" stroke-width="1.0" stroke-linecap="square" stroke-linejoin="round"/><g fill="#000"><rect x="971.80" y="373.98" width="3.36" height="2.59"/></g><path d="M929.20,329.62 L934.60,325.00 L934.60,343.50 M947.50,335.18 L950.50,332.77 L956.26,332.77 L959.50,335.36 L959.50,340.54 L956.26,343.50 L950.74,343.50 L947.50,340.54 L947.50,331.11 L954.22,325.00 M989.50,325.00 L995.50,325.00 L998.50,328.33 L998.50,340.17 L995.50,343.50 L989.50,343.50 L986.50,340.17 L986.50,328.33 Z M986.14,344.06 L998.74,324.44" fill="none" stroke="#000" stroke-width="1.0" stroke-linecap="square" stroke-linejoin="round"/><g fill="#000"><rect x="971.80" y="342.57" width="3.36" height="2.59"/></g><path d="M929.20,298.23 L934.60,293.60 L934.60,312.10 M947.50,303.78 L950.50,301.37 L956.26,301.37 L959.50,303.96 L959.50,309.14 L956.26,312.10 L950.74,312.10 L947.50,309.14 L947.50,299.71 L954.22,293.60 M998.50,293.60 L986.50,293.60 L986.50,302.48 L990.10,300.63 L994.66,300.63 L998.50,303.96 L998.50,308.77 L994.90,312.10 L986.50,312.10" fill="none" stroke="#000" stroke-width="1.0" stroke-linecap="square" stroke-linejoin="round"/><g fill="#000"><rect x="971.80" y="311.18" width="3.36" height="2.59"/></g><path d="M929.20,266.83 L934.60,262.20 L934.60,280.70 M947.50,262.20 L959.50,262.20 L951.34,280.70 M989.50,262.20 L995.50,262.20 L998.50,265.53 L998.50,277.37 L995.50,280.70 L989.50,280.70 L986.50,277.37 L986.50,265.53 Z M986.14,281.26 L998.74,261.65" fill="none" stroke="#000" stroke-width="1.0" stroke-linecap="square" stroke-linejoin="round"/><g fill="#000"><rect x="971.80" y="279.78" width="3.36" height="2.59"/></g><path d="M929.20,235.43 L934.60,230.80 L934.60,249.30 M947.50,230.80 L959.50,230.80 L951.34,249.30 M998.50,230.80 L986.50,230.80 L986.50,239.68 L990.10,237.83 L994.66,237.83 L998.50,241.16 L998.50,245.97 L994.90,249.30 L986.50,249.30" fill="none" stroke="#000" stroke-width="1.0" stroke-linecap="square" stroke-linejoin="round"/><g fill="#000"><rect x="971.80" y="248.38" width="3.36" height="2.59"/></g><path d="M238.60,113.50 L251.10,113.50 M244.85,113.50 L244.85,131.30 M256.60,126.32 L266.85,126.32 L266.85,124.00 L264.35,121.15 L259.35,121.15 L256.60,124.00 L256.60,128.45 L259.35,131.30 L264.35,131.30 L266.85,129.16 M274.60,121.15 L274.60,131.30 M274.60,123.29 L276.60,121.15 L283.35,121.15 L285.35,123.29 L285.35,131.30 M279.97,121.15 L279.97,131.30 M292.60,121.15 L292.60,136.28 M292.60,124.00 L295.35,121.15 L300.35,121.15 L302.97,124.00 L302.97,128.45 L300.35,131.30 L295.35,131.30 L292.60,128.45 M310.60,126.32 L320.85,126.32 L320.85,124.00 L318.35,121.15 L313.35,121.15 L310.60,124.00 L310.60,128.45 L313.35,131.30 L318.35,131.30 L320.85,129.16 M328.60,121.15 L328.60,131.30 M328.60,124.89 L330.97,121.69 L333.35,121.15 L336.85,121.15 L338.85,123.47 M348.60,121.33 L354.10,121.33 L355.97,124.18 L355.97,127.92 L359.10,131.30 M355.97,125.96 L353.60,125.34 L349.60,125.34 L346.60,127.03 L346.60,129.16 L349.60,131.03 L352.97,131.03 L355.97,127.92 M370.10,114.39 L370.10,130.05 L371.22,131.12 L373.60,131.12 L374.60,129.88 M366.60,121.33 L373.85,121.33 M382.85,121.15 L382.85,128.45 L385.85,131.12 L391.35,131.12 L393.10,129.52 M393.10,121.15 L393.10,131.30 M400.60,121.15 L400.60,131.30 M400.60,124.89 L402.97,121.69 L405.35,121.15 L408.85,121.15 L410.85,123.47 M418.60,126.32 L428.85,126.32 L428.85,124.00 L426.35,121.15 L421.35,121.15 L418.60,124.00 L418.60,128.45 L421.35,131.30 L426.35,131.30 L428.85,129.16 M457.35,121.15 L462.10,121.15 L464.85,124.00 L464.85,128.45 L462.10,131.30 L457.35,131.30 L454.60,128.45 L454.60,124.00 Z M472.85,121.15 L472.85,128.45 L475.85,131.12 L481.35,131.12 L483.10,129.52 M483.10,121.15 L483.10,131.30 M496.10,114.39 L496.10,130.05 L497.22,131.12 L499.60,131.12 L500.60,129.88 M492.60,121.33 L499.85,121.33 M529.35,121.15 L534.10,121.15 L536.85,124.00 L536.85,128.45 L534.10,131.30 L529.35,131.30 L526.60,128.45 L526.60,124.00 Z M554.60,115.10 L551.22,115.10 L549.10,118.13 L549.10,131.30 M545.35,121.15 L554.10,121.15 M580.60,121.15 L580.60,136.28 M580.60,124.00 L583.35,121.15 L588.35,121.15 L590.97,124.00 L590.97,128.45 L588.35,131.30 L583.35,131.30 L580.60,128.45 M601.35,121.15 L606.10,121.15 L608.85,124.00 L608.85,128.45 L606.10,131.30 L601.35,131.30 L598.60,128.45 L598.60,124.00 Z M622.47,121.15 L622.47,131.30 M634.60,121.15 L634.60,131.30 M634.60,123.29 L636.60,121.15 L642.97,121.15 L644.97,123.29 L644.97,131.30 M658.10,114.39 L658.10,130.05 L659.22,131.12 L661.60,131.12 L662.60,129.88 M654.60,121.33 L661.85,121.33 M688.60,131.30 L692.22,113.50 L696.47,113.50 L700.22,131.30 M689.72,125.60 L699.10,125.60 M706.60,121.15 L706.60,131.30 M706.60,123.29 L708.60,121.15 L714.97,121.15 L716.97,123.29 L716.97,131.30 M727.35,121.15 L732.10,121.15 L734.85,124.00 L734.85,128.45 L732.10,131.30 L727.35,131.30 L724.60,128.45 L724.60,124.00 Z M760.60,131.30 L760.60,113.50 L771.60,131.30 L771.60,113.50 M778.85,121.15 L778.85,128.45 L781.85,131.12 L787.35,131.12 L789.10,129.52 M789.10,121.15 L789.10,131.30 M796.60,126.32 L806.85,126.32 L806.85,124.00 L804.35,121.15 L799.35,121.15 L796.60,124.00 L796.60,128.45 L799.35,131.30 L804.35,131.30 L806.85,129.16 M814.60,121.15 L820.22,131.30 L825.85,121.15 M835.35,121.15 L840.10,121.15 L842.85,124.00 L842.85,128.45 L840.10,131.30 L835.35,131.30 L832.60,128.45 L832.60,124.00 Z" fill="none" stroke="#000" stroke-width="1.0" stroke-linecap="square" stroke-linejoin="round"/><g fill="#000"><rect x="621.01" y="117.06" width="1.81" height="1.60"/></g><path d="M114.64,155.85 L117.69,153.30 L122.44,153.30 L125.60,156.21 L125.60,159.67 L123.00,162.40 L119.38,162.40 M123.00,162.40 L125.60,165.13 L125.60,168.77 L122.44,171.50 L117.69,171.50 L114.30,168.77 M132.30,163.31 L135.12,160.94 L140.55,160.94 L143.60,163.49 L143.60,168.59 L140.55,171.50 L135.35,171.50 L132.30,168.59 L132.30,159.31 L138.63,153.30 M179.60,162.04 L176.78,164.58 L171.12,164.58 L168.30,162.04 L168.30,156.03 L171.12,153.30 L176.78,153.30 L179.60,156.03 L179.60,166.40 L174.18,171.50 M197.60,162.04 L194.78,164.58 L189.12,164.58 L186.30,162.04 L186.30,156.03 L189.12,153.30 L194.78,153.30 L197.60,156.03 L197.60,166.40 L192.18,171.50 M222.30,171.50 L222.30,153.30 L233.30,171.50 L233.30,153.30" fill="none" stroke="#000" stroke-width="1.0" stroke-linecap="square" stroke-linejoin="round"/><g fill="#000"><rect x="154.82" y="170.59" width="3.16" height="2.55"/></g><path d="M97.43,185.95 L102.52,181.40 L102.52,199.60 M114.53,184.68 L117.69,181.40 L122.55,181.40 L125.60,184.31 L125.60,188.68 L123.57,191.05 L114.30,196.51 L114.30,199.60 L125.60,199.60 M132.53,184.68 L135.69,181.40 L140.55,181.40 L143.60,184.31 L143.60,188.68 L141.57,191.05 L132.30,196.51 L132.30,199.60 L143.60,199.60 M168.30,191.41 L171.12,189.04 L176.55,189.04 L179.60,191.59 L179.60,196.69 L176.55,199.60 L171.35,199.60 L168.30,196.69 L168.30,187.41 L174.63,181.40 M187.43,185.95 L192.52,181.40 L192.52,199.60 M222.30,181.40 L225.30,199.60 L228.30,190.50 L231.30,199.60 L234.30,181.40" fill="none" stroke="#000" stroke-width="1.0" stroke-linecap="square" stroke-linejoin="round"/><g fill="#000"><rect x="154.82" y="198.69" width="3.16" height="2.55"/></g><path d="M714.64,155.85 L717.69,153.30 L722.44,153.30 L725.60,156.21 L725.60,159.67 L723.00,162.40 L719.38,162.40 M723.00,162.40 L725.60,165.13 L725.60,168.77 L722.44,171.50 L717.69,171.50 L714.30,168.77 M732.30,153.30 L743.60,153.30 L735.92,171.50 M769.43,157.85 L774.51,153.30 L774.51,171.50 M787.43,157.85 L792.51,153.30 L792.51,171.50 M822.30,171.50 L822.30,153.30 L833.30,171.50 L833.30,153.30" fill="none" stroke="#000" stroke-width="1.0" stroke-linecap="square" stroke-linejoin="round"/><g fill="#000"><rect x="754.82" y="170.59" width="3.16" height="2.55"/></g><path d="M697.43,185.95 L702.51,181.40 L702.51,199.60 M714.53,184.68 L717.69,181.40 L722.55,181.40 L725.60,184.31 L725.60,188.68 L723.57,191.05 L714.30,196.51 L714.30,199.60 L725.60,199.60 M732.53,184.68 L735.69,181.40 L740.55,181.40 L743.60,184.31 L743.60,188.68 L741.57,191.05 L732.30,196.51 L732.30,199.60 L743.60,199.60 M768.64,183.95 L771.69,181.40 L776.44,181.40 L779.60,184.31 L779.60,187.77 L777.00,190.50 L773.38,190.50 M777.00,190.50 L779.60,193.23 L779.60,196.87 L776.44,199.60 L771.69,199.60 L768.30,196.87 M786.64,183.95 L789.69,181.40 L794.44,181.40 L797.60,184.31 L797.60,187.77 L795.00,190.50 L791.38,190.50 M795.00,190.50 L797.60,193.23 L797.60,196.87 L794.44,199.60 L789.69,199.60 L786.30,196.87 M822.30,181.40 L825.30,199.60 L828.30,190.50 L831.30,199.60 L834.30,181.40" fill="none" stroke="#000" stroke-width="1.0" stroke-linecap="square" stroke-linejoin="round"/><g fill="#000"><rect x="754.82" y="198.69" width="3.16" height="2.55"/></g><path d="M4.42,199.50 L9.88,199.50 L12.60,202.65 L12.60,213.85 L9.88,217.00 L4.42,217.00 L1.70,213.85 L1.70,202.65 Z M1.37,217.53 L12.82,198.97 M19.50,207.03 L19.50,217.00 M19.50,209.12 L21.43,207.03 L27.94,207.03 L29.87,209.12 L29.87,217.00 M24.68,207.03 L24.68,217.00" fill="none" stroke="#000" stroke-width="1.0" stroke-linecap="square" stroke-linejoin="round"/><path d="M20.69,517.70 L25.60,513.20 L25.60,531.20 M40.33,513.20 L45.78,513.20 L48.50,516.44 L48.50,527.96 L45.78,531.20 L40.33,531.20 L37.60,527.96 L37.60,516.44 Z M37.27,531.74 L48.72,512.66 M58.33,513.20 L63.78,513.20 L66.50,516.44 L66.50,527.96 L63.78,531.20 L58.33,531.20 L55.60,527.96 L55.60,516.44 Z M55.27,531.74 L66.72,512.66" fill="none" stroke="#000" stroke-width="1.0" stroke-linecap="square" stroke-linejoin="round"/><path d="M19.82,830.24 L22.87,827.00 L27.56,827.00 L30.50,829.88 L30.50,834.20 L28.54,836.54 L19.60,841.94 L19.60,845.00 L30.50,845.00 M40.33,827.00 L45.78,827.00 L48.50,830.24 L48.50,841.76 L45.78,845.00 L40.33,845.00 L37.60,841.76 L37.60,830.24 Z M37.27,845.54 L48.72,826.46 M58.33,827.00 L63.78,827.00 L66.50,830.24 L66.50,841.76 L63.78,845.00 L58.33,845.00 L55.60,841.76 L55.60,830.24 Z M55.27,845.54 L66.72,826.46" fill="none" stroke="#000" stroke-width="1.0" stroke-linecap="square" stroke-linejoin="round"/><path d="M101.62,849.60 L109.47,849.60 L113.40,854.01 L113.40,869.69 L109.47,874.10 L101.62,874.10 L97.70,869.69 L97.70,854.01 Z M97.23,874.84 L113.71,848.87 M148.50,849.60 L148.50,874.10 M148.50,864.06 L160.65,858.67 M151.97,861.85 L163.78,874.10 M173.90,860.13 L173.90,874.10 M173.90,863.08 L176.68,860.13 L186.05,860.13 L188.83,863.08 L188.83,874.10 M181.37,860.13 L181.37,874.10" fill="none" stroke="#000" stroke-width="1.0" stroke-linecap="square" stroke-linejoin="round"/><path d="M752.82,854.25 L757.36,849.80 L764.33,849.80 L768.70,853.75 L768.70,859.68 L765.78,862.89 L752.50,870.30 L752.50,874.50 L768.70,874.50 M794.20,849.80 L778.00,849.80 L778.00,861.66 L782.86,859.19 L789.02,859.19 L794.20,863.63 L794.20,870.05 L789.34,874.50 L778.00,874.50" fill="none" stroke="#000" stroke-width="1.0" stroke-linecap="square" stroke-linejoin="round"/><path d="M291.30,878.50 L296.90,878.50 L299.70,881.67 L299.70,892.93 L296.90,896.10 L291.30,896.10 L288.50,892.93 L288.50,881.67 Z M288.16,896.63 L299.92,877.97 M327.30,878.50 L332.90,878.50 L335.70,881.67 L335.70,892.93 L332.90,896.10 L327.30,896.10 L324.50,892.93 L324.50,881.67 Z M324.16,896.63 L335.92,877.97 M345.30,878.50 L350.90,878.50 L353.70,881.67 L353.70,892.93 L350.90,896.10 L345.30,896.10 L342.50,892.93 L342.50,881.67 Z M342.16,896.63 L353.92,877.97 M381.30,878.50 L386.90,878.50 L389.70,881.67 L389.70,892.93 L386.90,896.10 L381.30,896.10 L378.50,892.93 L378.50,881.67 Z M378.16,896.63 L389.92,877.97 M399.30,878.50 L404.90,878.50 L407.70,881.67 L407.70,892.93 L404.90,896.10 L399.30,896.10 L396.50,892.93 L396.50,881.67 Z M396.16,896.63 L407.92,877.97 M414.50,878.50 L426.89,878.50 L414.50,896.10 L426.89,896.10 M469.62,882.90 L474.66,878.50 L474.66,896.10 M489.30,878.50 L494.90,878.50 L497.70,881.14 L497.70,884.48 L494.90,886.95 L489.30,886.95 L486.50,884.48 L486.50,881.14 Z M489.30,886.95 L486.50,889.41 L486.50,893.46 L489.30,896.10 L494.90,896.10 L497.70,893.46 L497.70,889.41 L494.90,886.95 M522.50,896.10 L526.09,878.50 L530.30,878.50 L534.02,896.10 M523.61,890.47 L532.91,890.47 M540.75,886.07 L540.75,893.28 L543.72,895.92 L549.17,895.92 L550.91,894.34 M550.91,886.07 L550.91,896.10 M568.91,888.88 L566.43,886.07 L561.23,886.07 L558.50,888.88 L558.50,893.28 L561.23,896.10 L566.43,896.10 L568.91,893.64 M568.91,886.07 L568.91,899.09 L565.93,902.44 L561.23,902.44 L558.50,900.50 M594.72,881.67 L597.86,878.50 L602.68,878.50 L605.70,881.32 L605.70,885.54 L603.68,887.83 L594.50,893.11 L594.50,896.10 L605.70,896.10 M615.30,878.50 L620.90,878.50 L623.70,881.67 L623.70,892.93 L620.90,896.10 L615.30,896.10 L612.50,892.93 L612.50,881.67 Z M612.16,896.63 L623.92,877.97 M633.30,878.50 L638.90,878.50 L641.70,881.67 L641.70,892.93 L638.90,896.10 L633.30,896.10 L630.50,892.93 L630.50,881.67 Z M630.16,896.63 L641.92,877.97 M648.50,888.18 L651.30,885.89 L656.68,885.89 L659.70,888.36 L659.70,893.28 L656.68,896.10 L651.52,896.10 L648.50,893.28 L648.50,884.31 L654.77,878.50" fill="none" stroke="#000" stroke-width="1.0" stroke-linecap="square" stroke-linejoin="round"/><g fill="#000"><rect x="310.53" y="887.83" width="2.91" height="2.11"/><rect x="310.53" y="892.05" width="2.91" height="2.11"/><rect x="364.53" y="887.83" width="2.91" height="2.11"/><rect x="364.53" y="892.05" width="2.91" height="2.11"/></g></svg></body></html>
